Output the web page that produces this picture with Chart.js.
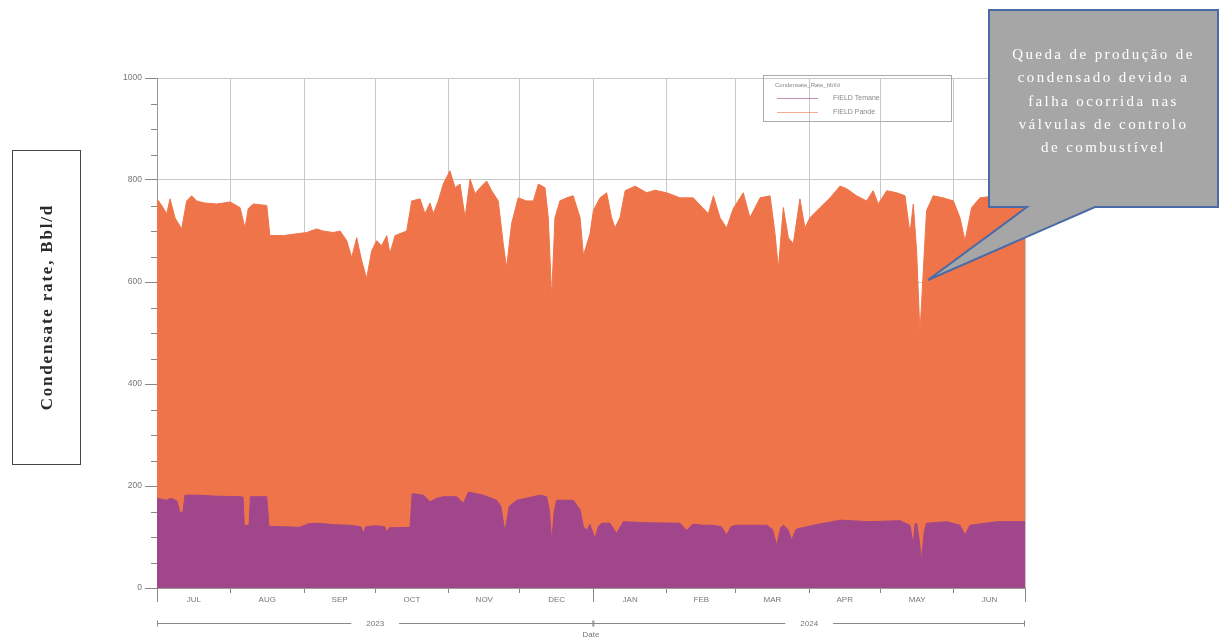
<!DOCTYPE html>
<html>
<head>
<meta charset="utf-8">
<script src="https://cdn.jsdelivr.net/npm/chart.js@4/dist/chart.umd.min.js"></script>
<style>
  body { margin: 0; background: #fff; }
  #wrap { position: absolute; left: 0; top: 0; width: 1224px; height: 641px; }
  #ylab {
    position: absolute; left: 12px; top: 150px; width: 69px; height: 315px;
    border: 1.5px solid #444; box-sizing: border-box;
    display: flex; align-items: center; justify-content: center;
  }
  #ylab span {
    writing-mode: vertical-rl; transform: rotate(180deg);
    font-family: "Liberation Serif", serif; font-weight: bold; font-size: 17px;
    letter-spacing: 1.8px; color: #2a2a2a;
  }
  #callout { position: absolute; left: 0; top: 0; pointer-events: none; }
  #calloutText {
    position: absolute; left: 989px; top: 43px; width: 229px; text-align: center;
    font-family: "Liberation Serif", serif; font-size: 15px; line-height: 23.3px;
    letter-spacing: 2.4px; color: #fff;
  }
</style>
</head>
<body>
<div id="wrap">
  <canvas id="rateChart" width="1224" height="641"></canvas>
</div>
<div id="ylab"><span>Condensate rate, Bbl/d</span></div>
<svg id="callout" width="1224" height="641">
  <path d="M989,10 H1218 V207 H1095 L928,280 L1027,207 H989 Z" fill="#a6a6a6" stroke="#4a6aa8" stroke-width="2"/>
</svg>
<div id="calloutText">Queda de produção de<br>condensado devido a<br>falha ocorrida nas<br>válvulas de controlo<br>de combustível</div>

<script>
// days counted from 1 Jul 2023
var monthStarts = [0, 31, 62, 92, 123, 153, 184, 215, 244, 275, 305, 336, 366]
var monthLabels = ['JUL', 'AUG', 'SEP', 'OCT', 'NOV', 'DEC', 'JAN', 'FEB', 'MAR', 'APR', 'MAY', 'JUN']
var yearBounds = [0, 184, 366]
var yearLabels = ['2023', '2024']

// top of the stacked area (Temane + Pande), bbl/d
var totalDays = [0, 2, 4.1, 5.5, 7.6, 10.4, 12.5, 14.6, 16.7, 20, 25.2, 30.8, 35, 37.1, 38.5, 40.6, 46.3, 47.6, 53.3, 58,
  63.1, 67.3, 70, 74.3, 77.2, 80, 82.1, 84.2, 86.3, 88.4, 90.5, 92.6, 94.7, 96.9, 98.2, 100.4, 105.3, 107.4, 110.9, 113,
  115.1, 116.5, 118.6, 120.7, 123.5, 125.7, 127.8, 129.9, 132, 134.1, 136.2, 139, 141.1, 143.9, 146, 147.4, 149.5, 152.3, 155.8, 158.7,
  160.8, 163.6, 165, 166.4, 167.8, 169.9, 172.7, 175.5, 178.4, 179.8, 182.6, 184, 186.8, 189.6, 191.7, 193.1, 195.2, 197.4, 201.6, 206.5,
  210, 214.9, 220.5, 226.1, 230.4, 232.5, 234.6, 237.4, 240.2, 243, 247.2, 250, 254.3, 258.5, 260.6, 262, 264.1, 266.2, 268.3, 271.1,
  273.2, 275.3, 279.6, 283.8, 288, 290.8, 295, 299.2, 302, 304.1, 307.7, 311.9, 315.4, 317.5, 318.9, 320.3, 321.7, 323.1, 324.5, 327.3,
  331.5, 335.8, 338.6, 340.7, 343.5, 347, 352, 358, 362, 366]
var totalRate = [763, 750, 734, 763, 726, 704, 759, 769, 759, 755, 753, 757, 746, 706, 744, 753, 750, 691, 691, 694,
  697, 704, 700, 697, 700, 681, 648, 687, 642, 607, 661, 681, 671, 691, 656, 691, 700, 759, 763, 734,
  755, 734, 759, 792, 818, 785, 792, 726, 802, 773, 785, 798, 779, 759, 675, 628, 714, 765, 759, 759,
  792, 785, 726, 570, 726, 759, 765, 769, 726, 652, 695, 740, 765, 775, 726, 706, 726, 779, 788, 775,
  780, 775, 765, 765, 744, 734, 769, 726, 706, 744, 775, 726, 765, 769, 695, 626, 746, 687, 675, 763,
  706, 726, 746, 765, 788, 783, 769, 759, 779, 753, 779, 775, 769, 695, 753, 661, 499, 620, 740, 769,
  765, 759, 726, 681, 746, 765, 768, 762, 766, 760]

// FIELD Temane (bottom layer), bbl/d
var temaneDays = [0, 4, 6, 8.5, 9.7, 11, 11.8, 18, 25, 35, 36.3, 36.8, 38.8, 39.4, 46.3, 47.2, 60, 64, 68, 75,
  81.4, 86, 87, 88, 92, 96, 96.9, 98, 106.7, 107.6, 112.4, 115.1, 118, 120.7, 126.4, 129.2, 131.3, 137.6, 143.2, 145,
  146.7, 148.5, 151.7, 161.5, 164.3, 165.5, 166.4, 167.5, 168.5, 175.5, 178.4, 179.8, 181.3, 182.5, 184.7, 186, 187.5, 191, 193.8, 196.6,
  206.5, 220.5, 223.3, 226, 230.4, 234.6, 238, 240.2, 242, 244.4, 257.1, 259.5, 261.3, 263, 264.1, 266, 267.6, 269.5, 271.1, 276.7,
  288, 300.6, 313.3, 317.5, 318.9, 319.6, 320.3, 321.2, 322.4, 323.5, 324.5, 333, 338.6, 340.7, 342.8, 354.1, 366]
var temaneRate = [176, 172, 176, 170, 147, 150, 182, 182, 180, 179, 178, 123, 123, 179, 179, 121, 119, 126, 127, 124,
  123, 120, 107, 120, 122, 120, 110, 118, 119, 185, 182, 169, 176, 179, 179, 166, 188, 182, 172, 160,
  110, 160, 172, 182, 179, 150, 91, 150, 172, 172, 153, 120, 113, 125, 97, 120, 127, 127, 107, 130,
  128, 127, 113, 125, 123, 123, 120, 104, 120, 123, 123, 115, 84, 118, 123, 115, 94, 115, 117, 123,
  133, 130, 132, 123, 84, 125, 127, 100, 55, 110, 127, 130, 123, 104, 123, 130, 130]

var purple = '#a2468b'
var orange = '#ef7449'

function pts(xs, ys) {
  var out = []
  for (var i = 0; i < xs.length; i++) {
    out.push({x: xs[i], y: ys[i]})
  }
  return out
}

// minor y ticks, year row, long ticks, Date title and the small legend box
var extras = {
  id: 'extras',
  afterDraw: function(chart) {
    var ctx = chart.ctx
    var xs = chart.scales.x
    var ys = chart.scales.y
    var area = chart.chartArea
    ctx.save()
    ctx.strokeStyle = '#888'
    ctx.lineWidth = 1

    ys.ticks.forEach(function(t) {
      if (t.value % 200 === 0) return
      var py = Math.round(ys.getPixelForValue(t.value)) + 0.5
      ctx.beginPath()
      ctx.moveTo(area.left - 6, py)
      ctx.lineTo(area.left, py)
      ctx.stroke()
    })

    yearBounds.forEach(function(d) {
      var px = Math.round(xs.getPixelForValue(d)) + 0.5
      ctx.beginPath()
      ctx.moveTo(px, area.bottom)
      ctx.lineTo(px, area.bottom + 14)
      ctx.stroke()
    })

    var rowY = 623.5
    ctx.font = '8px "Liberation Sans"'
    ctx.fillStyle = '#777'
    ctx.textAlign = 'center'
    ctx.textBaseline = 'middle'
    for (var i = 0; i < yearLabels.length; i++) {
      var a = xs.getPixelForValue(yearBounds[i])
      var b = xs.getPixelForValue(yearBounds[i + 1])
      var mid = (a + b) / 2
      var half = ctx.measureText(yearLabels[i]).width / 2 + 15
      ctx.beginPath()
      ctx.moveTo(a, rowY); ctx.lineTo(mid - half, rowY)
      ctx.moveTo(mid + half, rowY); ctx.lineTo(b, rowY)
      ctx.moveTo(a + 0.5, rowY - 3); ctx.lineTo(a + 0.5, rowY + 3)
      ctx.moveTo(b - 0.5, rowY - 3); ctx.lineTo(b - 0.5, rowY + 3)
      ctx.stroke()
      ctx.fillText(yearLabels[i], mid, rowY)
    }
    ctx.fillText('Date', (area.left + area.right) / 2, 635)

    // legend box
    ctx.strokeStyle = '#aaa'
    ctx.strokeRect(763.5, 75.5, 188, 46)
    ctx.textAlign = 'left'
    ctx.fillStyle = '#888'
    ctx.font = '6px "Liberation Sans"'
    ctx.fillText('Condensate_Rate_bbl/d', 775, 85)
    ctx.font = '7px "Liberation Sans"'
    chart.data.datasets.forEach(function(ds, k) {
      var ly = 98 + k * 14
      ctx.globalAlpha = 0.6
      ctx.strokeStyle = ds.borderColor
      ctx.beginPath()
      ctx.moveTo(777, ly + 0.5); ctx.lineTo(818, ly + 0.5)
      ctx.stroke()
      ctx.globalAlpha = 1
      ctx.fillText(ds.label, 833, ly)
    })
    ctx.restore()
  }
}

new Chart(document.getElementById('rateChart'), {
  type: 'line',
  data: {
    datasets: [{
      label: 'FIELD Temane',
      data: pts(temaneDays, temaneRate),
      borderColor: purple,
      backgroundColor: purple,
      borderWidth: 1,
      pointRadius: 0,
      fill: 'origin'
    }, {
      label: 'FIELD Pande',
      data: pts(totalDays, totalRate),
      borderColor: orange,
      backgroundColor: orange,
      borderWidth: 1,
      pointRadius: 0,
      fill: 'origin'
    }]
  },
  options: {
    responsive: false,
    animation: false,
    layout: { padding: { left: 100, right: 199, top: 78, bottom: 0 } },
    plugins: { legend: { display: false }, tooltip: { enabled: false } },
    scales: {
      x: {
        type: 'linear',
        min: 0,
        max: 366,
        afterBuildTicks: function(scale) {
          var t = []
          for (var i = 0; i < monthStarts.length; i++) {
            t.push({value: monthStarts[i]})
            if (i < monthLabels.length) t.push({value: (monthStarts[i] + monthStarts[i + 1]) / 2})
          }
          scale.ticks = t
        },
        afterFit: function(scale) { scale.height = 53 },
        ticks: {
          autoSkip: false,
          maxRotation: 0,
          padding: 2,
          color: '#777',
          font: { family: 'Liberation Sans', size: 8 },
          callback: function(v, i) { return i % 2 === 1 ? monthLabels[(i - 1) / 2] : '' }
        },
        grid: {
          color: function(c) { return c.index % 2 === 0 ? '#c8c8c8' : 'rgba(0,0,0,0)' },
          tickColor: function(c) { return c.index % 2 === 0 ? '#888' : 'rgba(0,0,0,0)' },
          tickLength: 5
        },
        border: { color: '#999' }
      },
      y: {
        min: 0,
        max: 1000,
        afterFit: function(scale) { scale.width = 57 },
        ticks: {
          stepSize: 50,
          autoSkip: false,
          padding: 3,
          color: '#777',
          font: { family: 'Liberation Sans', size: 8.5 },
          callback: function(v) { return v % 200 === 0 ? v : '' }
        },
        grid: {
          color: function(c) { return c.tick && c.tick.value % 200 === 0 ? '#c8c8c8' : 'rgba(0,0,0,0)' },
          tickColor: function(c) { return c.tick && c.tick.value % 200 === 0 ? '#888' : 'rgba(0,0,0,0)' },
          tickLength: 12
        },
        border: { color: '#999' }
      }
    }
  },
  plugins: [extras]
})
</script>
</body>
</html>
